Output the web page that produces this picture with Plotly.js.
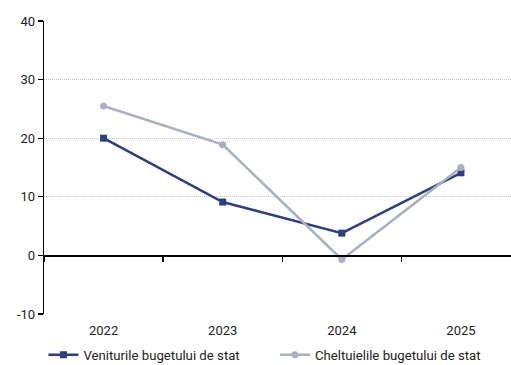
<!DOCTYPE html>
<html><head><meta charset="utf-8">
<script src="https://cdn.plot.ly/plotly-3.0.1.min.js"></script>
<style>html,body{margin:0;padding:0;background:#fff}#c{width:511px;height:365px}</style>
</head><body><div id="c"></div>
<script>
const years = ['2022','2023','2024','2025'];
const venituri = [20.0, 9.1, 3.8, 14.1];
const cheltuieli = [25.5, 18.9, -0.7, 15.0];
const seriesNames = ['Veniturile bugetului de stat','Cheltuielile bugetului de stat'];
const yTickVals = [-10, 0, 10, 20, 30, 40];
const yTickText = ['-10', '0', '10', '20', '30', '40'];

const traces = [
  {x: years, y: venituri, name: seriesNames[0], type:'scatter', mode:'lines+markers', legend:'legend',
   line:{color:'#2C3F86', width:2.5}, marker:{symbol:'square', size:7, color:'#2C3F86'}},
  {x: years, y: cheltuieli, name: seriesNames[1], type:'scatter', mode:'lines+markers', legend:'legend2',
   line:{color:'#A8B1C2', width:2.5}, marker:{symbol:'circle', size:7, color:'#A8B1C2'}},
  {x: years, y: venituri, xaxis:'x2', showlegend:false, hoverinfo:'skip', mode:'none', type:'scatter'}
];
const legFont = {size:13.2, color:'#222'};
const layout = {
  width:511, height:365,
  margin:{l:44, r:0, t:21, b:51},
  paper_bgcolor:'#fff', plot_bgcolor:'#fff',
  font:{family:'Roboto, sans-serif', size:13, color:'#222'},
  showlegend:true,
  legend:{orientation:'h', xref:'container', yref:'container', x:0.085, xanchor:'left', y:0.027, yanchor:'middle', font:legFont, itemwidth:30, bgcolor:'rgba(0,0,0,0)'},
  legend2:{orientation:'h', xref:'container', yref:'container', x:0.538, xanchor:'left', y:0.027, yanchor:'middle', font:legFont, itemwidth:30, bgcolor:'rgba(0,0,0,0)'},
  xaxis:{type:'category', range:[-0.5, 3.42], showgrid:false, zeroline:false, showline:false, ticks:'outside', ticklen:4, tickcolor:'rgba(0,0,0,0)', tickfont:{size:13}, fixedrange:true},
  xaxis2:{type:'category', overlaying:'x', anchor:'free', position:0.2, range:[-0.5,3.42], showgrid:false, zeroline:false,
          showline:true, linecolor:'#000', linewidth:1.3, ticks:'outside', ticklen:5, tickcolor:'#000', tickwidth:1.3, tickson:'boundaries', showticklabels:false},
  yaxis:{range:[-10,40], tickvals:yTickVals, ticktext:yTickText, showgrid:true, gridcolor:'#c8c8c8', griddash:'1px,1px', gridwidth:1, zeroline:false,
         showline:true, linecolor:'#000', linewidth:1.3, ticks:'outside', ticklen:5, tickcolor:'#000', tickwidth:1.3, tickfont:{size:13}, fixedrange:true}
};
Plotly.newPlot('c', traces, layout, {displayModeBar:false, staticPlot:true});
</script></body></html>
